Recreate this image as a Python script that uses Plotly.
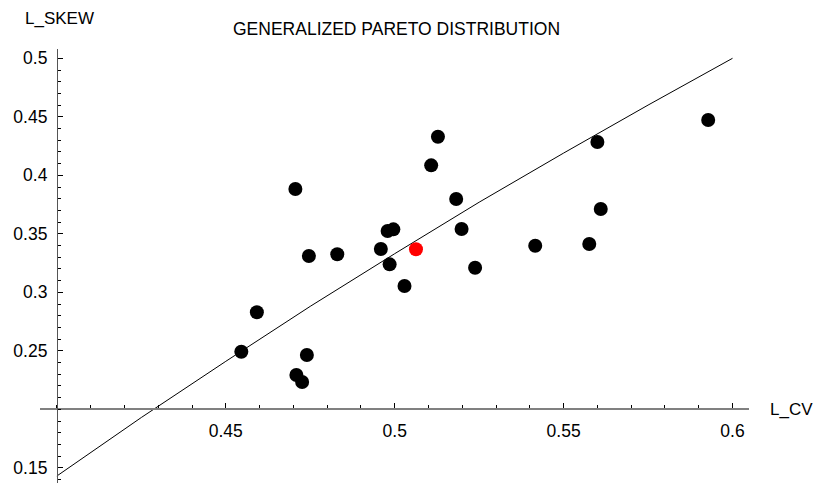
import plotly.graph_objects as go

# Observed sample points (L_CV, L_SKEW)
l_cv = [0.4706, 0.4746, 0.4830, 0.4959, 0.4979, 0.4996, 0.4985, 0.5029,
        0.4592, 0.4546, 0.4740, 0.4709, 0.4726, 0.5128, 0.5108, 0.5182,
        0.5198, 0.5238, 0.5416, 0.5576, 0.5600, 0.5928, 0.5610]
l_skew = [0.3883, 0.3310, 0.3325, 0.3370, 0.3524, 0.3538, 0.3239, 0.3054,
          0.2830, 0.2492, 0.2464, 0.2293, 0.2233, 0.4330, 0.4085, 0.3797,
          0.3541, 0.3210, 0.3398, 0.3413, 0.4285, 0.4473, 0.3712]

# Highlighted (regional) point
red_cv = [0.5063]
red_skew = [0.3368]

# Theoretical GPD curve
curve_cv = [0.400, 0.425, 0.450, 0.475, 0.500, 0.525, 0.550, 0.575, 0.600]
curve_skew = [0.143, 0.193, 0.241, 0.288, 0.333, 0.377, 0.419, 0.460, 0.500]

x_ticks = [0.45, 0.5, 0.55, 0.6]
x_labels = ["0.45", "0.5", "0.55", "0.6"]
y_ticks = [0.15, 0.25, 0.3, 0.35, 0.4, 0.45, 0.5]
y_labels = ["0.15", "0.25", "0.3", "0.35", "0.4", "0.45", "0.5"]

title_text = "GENERALIZED PARETO DISTRIBUTION"
x_title = "L_CV"
y_title = "L_SKEW"

W, H = 814, 483
FONT = "Liberation Sans, Arial, sans-serif"

fig = go.Figure()
fig.add_trace(go.Scatter(x=curve_cv, y=curve_skew, mode="lines",
                         line=dict(color="black", width=1), hoverinfo="skip"))
fig.add_trace(go.Scatter(x=l_cv, y=l_skew, mode="markers",
                         marker=dict(color="black", size=14, line=dict(width=0))))
fig.add_trace(go.Scatter(x=red_cv, y=red_skew, mode="markers",
                         marker=dict(color="#ff0000", size=14, line=dict(width=0))))

fig.update_layout(
    width=W, height=H,
    margin=dict(l=0, r=0, t=0, b=0),
    paper_bgcolor="white", plot_bgcolor="white",
    showlegend=False,
    font=dict(family=FONT, size=17, color="black"),
    xaxis=dict(
        domain=[40 / W, 749.3 / W],
        range=[0.395, 0.60497],
        anchor="free", position=(H - 409.3) / H,
        showgrid=False, zeroline=False,
        showline=True, linecolor="#808080", linewidth=2,
        tickmode="array", tickvals=x_ticks, ticktext=x_labels,
        ticks="inside", ticklen=5, tickcolor="black", tickwidth=1,
        minor=dict(tickmode="linear", tick0=0.4, dtick=0.01,
                   ticks="inside", ticklen=3, tickcolor="black", tickwidth=1),
        ticklabelstandoff=6,
        tickfont=dict(family=FONT, size=17.5, color="black"),
    ),
    yaxis=dict(
        domain=[0, (H - 49) / H],
        range=[0.13701, 0.50795],
        anchor="free", position=56.9 / W,
        showgrid=False, zeroline=False,
        showline=True, linecolor="#555555", linewidth=1,
        tickmode="array", tickvals=y_ticks, ticktext=y_labels,
        ticks="inside", ticklen=5, tickcolor="black", tickwidth=1,
        minor=dict(tickmode="linear", tick0=0.2, dtick=0.01,
                   ticks="inside", ticklen=3, tickcolor="black", tickwidth=1),
        ticklabelstandoff=6,
        tickfont=dict(family=FONT, size=17.5, color="black"),
    ),
    annotations=[
        dict(text=title_text, x=396 / W, y=1 - 29.5 / H, xref="paper", yref="paper",
             xanchor="center", yanchor="middle", showarrow=False,
             font=dict(family=FONT, size=17.5, color="black")),
        dict(text=y_title, x=23.3 / W, y=1 - 18.3 / H, xref="paper", yref="paper",
             xanchor="left", yanchor="middle", showarrow=False,
             font=dict(family=FONT, size=17, color="black")),
        dict(text=x_title, x=768 / W, y=1 - 409.5 / H, xref="paper", yref="paper",
             xanchor="left", yanchor="middle", showarrow=False,
             font=dict(family=FONT, size=17, color="black")),
    ],
)

fig.write_html("out.html")
